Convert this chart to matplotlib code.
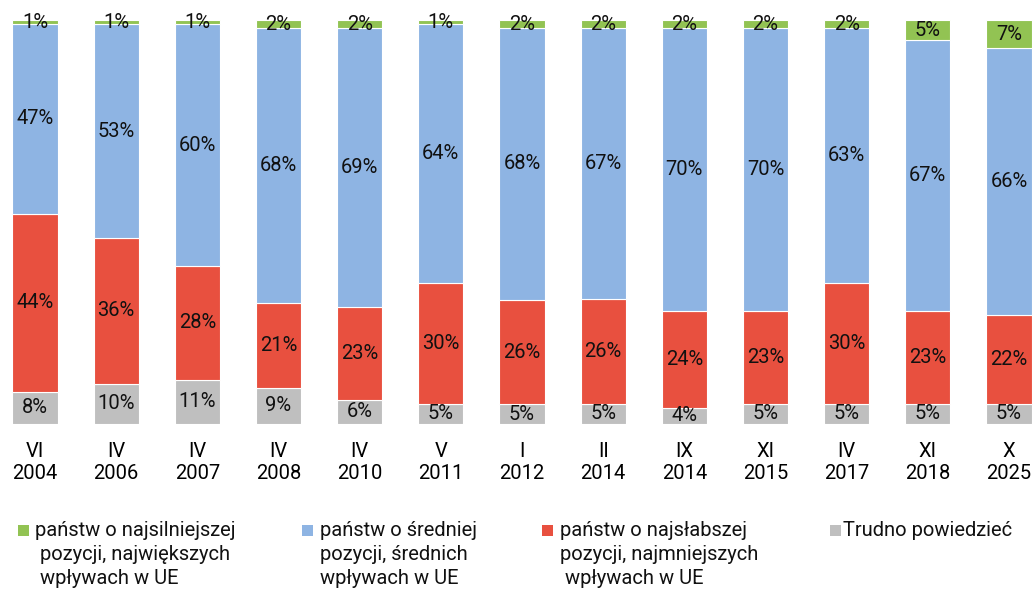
import matplotlib
matplotlib.use("Agg")
import matplotlib.pyplot as plt
from matplotlib.patches import Rectangle
import numpy as np

plt.rcParams['font.family'] = ['Roboto', 'DejaVu Sans']

categories = ["VI\n2004", "IV\n2006", "IV\n2007", "IV\n2008", "IV\n2010", "V\n2011",
              "I\n2012", "II\n2014", "IX\n2014", "XI\n2015", "IV\n2017", "XI\n2018", "X\n2025"]
trudno = [8, 10, 11, 9, 6, 5, 5, 5, 4, 5, 5, 5, 5]
najslabsze = [44, 36, 28, 21, 23, 30, 26, 26, 24, 23, 30, 23, 22]
srednie = [47, 53, 60, 68, 69, 64, 68, 67, 70, 70, 63, 67, 66]
najsilniejsze = [1, 1, 1, 2, 2, 1, 2, 2, 2, 2, 2, 5, 7]

series = [
    (trudno, "#BFBFBF", "Trudno powiedzieć"),
    (najslabsze, "#E8503F", "państw o najsłabszej\npozycji, najmniejszych\n wpływach w UE"),
    (srednie, "#8EB4E3", "państw o średniej\npozycji, średnich\nwpływach w UE"),
    (najsilniejsze, "#92C353", "państw o najsilniejszej\n pozycji, największych\n wpływach w UE"),
]

W, H = 1035, 591
fig = plt.figure(figsize=(W / 100, H / 100), dpi=100)
ax = fig.add_axes([0, 167 / H, 1, 404 / H])

x = np.arange(len(categories))
totals = np.sum([np.array(s[0], dtype=float) for s in series], axis=0)
bottom = np.zeros(len(categories))
for vals, color, label in series:
    v = np.array(vals, dtype=float) / totals * 100
    ax.bar(x, v, bottom=bottom, width=0.555, color=color, edgecolor="white", linewidth=0.8)
    for xi, b, h, raw in zip(x, bottom, v, vals):
        ax.text(xi, b + h / 2, f"{raw}%", ha="center", va="center", fontsize=14.5, color="#111111")
    bottom += v

ax.set_xlim(-35 / 81.17, 12 + 26 / 81.17)
ax.set_ylim(0, 100)
ax.set_xticks(x)
ax.set_xticklabels(categories, fontsize=14.5, linespacing=1.2)
ax.tick_params(axis="x", length=0, pad=13)
ax.set_yticks([])
for s in ax.spines.values():
    s.set_visible(False)

# legend
legend_items = [
    (series[3], 18, 35),
    (series[2], 302, 320),
    (series[1], 542, 560),
    (series[0], 830, 843),
]
for (vals, color, label), sx, tx in legend_items:
    fig.patches.append(Rectangle((sx / W, 1 - 536 / H), 11 / W, 11 / H, transform=fig.transFigure,
                                 facecolor=color, edgecolor="none"))
    fig.text(tx / W, 1 - 521 / H, label, ha="left", va="top", fontsize=14.5,
             linespacing=1.32, color="#111111")

fig.savefig("out.png", dpi=100)
